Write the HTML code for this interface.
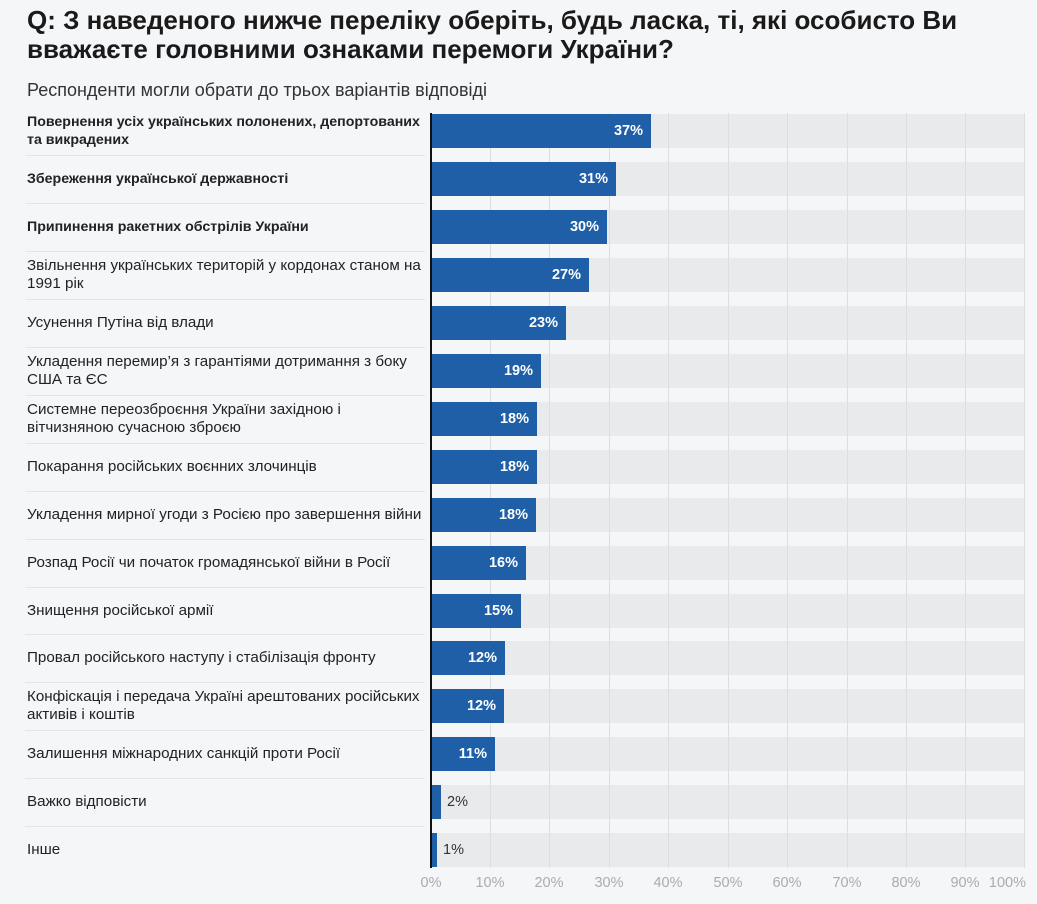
<!DOCTYPE html>
<html><head><meta charset="utf-8">
<style>
html,body{margin:0;padding:0;}
body{width:1037px;height:904px;background:#f5f6f8;position:relative;overflow:hidden;font-family:"Liberation Sans","DejaVu Sans",sans-serif;color:#222;}
.title{position:absolute;left:27px;top:6px;font-size:26px;font-weight:bold;line-height:29px;color:#1a1a1a;white-space:nowrap;}
.sub{position:absolute;left:27px;top:80px;font-size:18px;color:#333;white-space:nowrap;}
.lab{position:absolute;left:27px;width:402px;font-size:15.2px;line-height:18px;color:#222;display:flex;align-items:center;height:44px;}
.lab.b{font-weight:bold;font-size:14.2px;width:396px;}
.sep{position:absolute;left:25px;width:400px;height:1px;background:#e4e5e8;}
.track{position:absolute;left:431px;width:594px;height:34px;background:#e9eaec;}
.grid{position:absolute;top:113px;height:755px;width:1px;background:#dddee1;}
.bar{position:absolute;left:431px;height:34px;background:#1e5fa7;}
.val{position:absolute;font-size:14.5px;font-weight:bold;color:#fff;line-height:34px;text-align:right;}
.valo{position:absolute;font-size:14.5px;color:#333;line-height:34px;}
.axis{position:absolute;left:430px;top:113px;width:2px;height:755px;background:#111;}
.tick{position:absolute;top:875px;font-size:14.5px;color:#a9abb0;width:50px;text-align:center;}
</style></head><body>
<div class="title">Q: З наведеного нижче переліку оберіть, будь ласка, ті, які особисто Ви<br>вважаєте головними ознаками перемоги України?</div>
<div class="sub">Респонденти могли обрати до трьох варіантів відповіді</div>

<!-- tracks -->
<div class="track" style="top:114px"></div>
<div class="track" style="top:162px"></div>
<div class="track" style="top:210px"></div>
<div class="track" style="top:258px"></div>
<div class="track" style="top:306px"></div>
<div class="track" style="top:354px"></div>
<div class="track" style="top:402px"></div>
<div class="track" style="top:450px"></div>
<div class="track" style="top:498px"></div>
<div class="track" style="top:546px"></div>
<div class="track" style="top:594px"></div>
<div class="track" style="top:641px"></div>
<div class="track" style="top:689px"></div>
<div class="track" style="top:737px"></div>
<div class="track" style="top:785px"></div>
<div class="track" style="top:833px"></div>

<!-- grid -->
<div class="grid" style="left:490px"></div>
<div class="grid" style="left:549px"></div>
<div class="grid" style="left:609px"></div>
<div class="grid" style="left:668px"></div>
<div class="grid" style="left:728px"></div>
<div class="grid" style="left:787px"></div>
<div class="grid" style="left:847px"></div>
<div class="grid" style="left:906px"></div>
<div class="grid" style="left:965px"></div>
<div class="grid" style="left:1024px"></div>

<!-- separators -->
<div class="sep" style="top:155px"></div>
<div class="sep" style="top:203px"></div>
<div class="sep" style="top:251px"></div>
<div class="sep" style="top:299px"></div>
<div class="sep" style="top:347px"></div>
<div class="sep" style="top:395px"></div>
<div class="sep" style="top:443px"></div>
<div class="sep" style="top:491px"></div>
<div class="sep" style="top:539px"></div>
<div class="sep" style="top:587px"></div>
<div class="sep" style="top:634px"></div>
<div class="sep" style="top:682px"></div>
<div class="sep" style="top:730px"></div>
<div class="sep" style="top:778px"></div>
<div class="sep" style="top:826px"></div>

<!-- bars -->
<div class="bar" style="top:114px;width:220px"></div>
<div class="bar" style="top:162px;width:185px"></div>
<div class="bar" style="top:210px;width:176px"></div>
<div class="bar" style="top:258px;width:158px"></div>
<div class="bar" style="top:306px;width:135px"></div>
<div class="bar" style="top:354px;width:110px"></div>
<div class="bar" style="top:402px;width:106px"></div>
<div class="bar" style="top:450px;width:106px"></div>
<div class="bar" style="top:498px;width:105px"></div>
<div class="bar" style="top:546px;width:95px"></div>
<div class="bar" style="top:594px;width:90px"></div>
<div class="bar" style="top:641px;width:74px"></div>
<div class="bar" style="top:689px;width:73px"></div>
<div class="bar" style="top:737px;width:64px"></div>
<div class="bar" style="top:785px;width:10px"></div>
<div class="bar" style="top:833px;width:6px"></div>

<!-- values -->
<div class="val" style="top:114px;left:431px;width:212px">37%</div>
<div class="val" style="top:162px;left:431px;width:177px">31%</div>
<div class="val" style="top:210px;left:431px;width:168px">30%</div>
<div class="val" style="top:258px;left:431px;width:150px">27%</div>
<div class="val" style="top:306px;left:431px;width:127px">23%</div>
<div class="val" style="top:354px;left:431px;width:102px">19%</div>
<div class="val" style="top:402px;left:431px;width:98px">18%</div>
<div class="val" style="top:450px;left:431px;width:98px">18%</div>
<div class="val" style="top:498px;left:431px;width:97px">18%</div>
<div class="val" style="top:546px;left:431px;width:87px">16%</div>
<div class="val" style="top:594px;left:431px;width:82px">15%</div>
<div class="val" style="top:641px;left:431px;width:66px">12%</div>
<div class="val" style="top:689px;left:431px;width:65px">12%</div>
<div class="val" style="top:737px;left:431px;width:56px">11%</div>
<div class="valo" style="top:785px;left:447px">2%</div>
<div class="valo" style="top:833px;left:443px">1%</div>

<div class="axis"></div>

<!-- labels -->
<div class="lab b" style="top:109px">Повернення усіх українських полонених, депортованих та викрадених</div>
<div class="lab b" style="top:157px">Збереження української державності</div>
<div class="lab b" style="top:205px">Припинення ракетних обстрілів України</div>
<div class="lab" style="top:253px">Звільнення українських територій у кордонах станом на 1991 рік</div>
<div class="lab" style="top:301px">Усунення Путіна від влади</div>
<div class="lab" style="top:349px">Укладення перемир’я з гарантіями дотримання з боку США та ЄС</div>
<div class="lab" style="top:397px">Системне переозброєння України західною і вітчизняною сучасною зброєю</div>
<div class="lab" style="top:445px">Покарання російських воєнних злочинців</div>
<div class="lab" style="top:493px">Укладення мирної угоди з Росією про завершення війни</div>
<div class="lab" style="top:541px">Розпад Росії чи початок громадянської війни в Росії</div>
<div class="lab" style="top:589px">Знищення російської армії</div>
<div class="lab" style="top:636px">Провал російського наступу і стабілізація фронту</div>
<div class="lab" style="top:684px">Конфіскація і передача Україні арештованих російських активів і коштів</div>
<div class="lab" style="top:732px">Залишення міжнародних санкцій проти Росії</div>
<div class="lab" style="top:780px">Важко відповісти</div>
<div class="lab" style="top:828px">Інше</div>

<!-- ticks -->
<div class="tick" style="left:406px">0%</div>
<div class="tick" style="left:465px">10%</div>
<div class="tick" style="left:524px">20%</div>
<div class="tick" style="left:584px">30%</div>
<div class="tick" style="left:643px">40%</div>
<div class="tick" style="left:703px">50%</div>
<div class="tick" style="left:762px">60%</div>
<div class="tick" style="left:822px">70%</div>
<div class="tick" style="left:881px">80%</div>
<div class="tick" style="left:940px">90%</div>
<div class="tick" style="left:982px;text-align:right;width:44px">100%</div>
</body></html>
